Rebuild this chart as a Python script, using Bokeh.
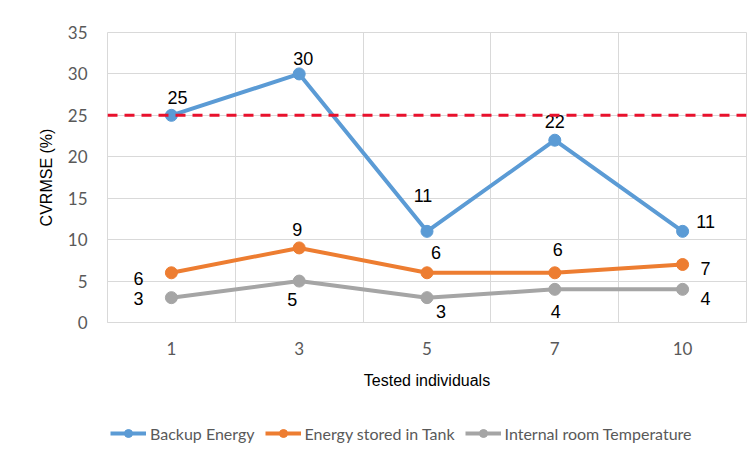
from bokeh.plotting import figure
from bokeh.layouts import column
from bokeh.models import FixedTicker, Span, Legend, LegendItem, ColumnDataSource, Range1d
from bokeh.core.properties import value
from bokeh.embed import file_html
from bokeh.resources import INLINE

# ---- data ----
categories = ["1", "3", "5", "7", "10"]
backup_energy = [25, 30, 11, 22, 11]
energy_tank = [6, 9, 6, 6, 7]
room_temp = [3, 5, 3, 4, 4]
threshold = 25
y_ticks = [0, 5, 10, 15, 20, 25, 30, 35]
series_names = ["Backup Energy", "Energy stored in Tank", "Internal room Temperature"]

# ---- styling (label pixel offsets relative to points) ----
colors = ["#5B9BD5", "#ED7D31", "#A5A5A5"]
label_dx = [[6, 4, -4, 0, 23], [-33, -2, 9, 3, 23], [-33, -7, 14, 1, 23]]
label_dy = [[-18, -15, -36, -19, -10], [6, -18, -20, -23, 4], [1, 18, 14, 22, 9]]

xpos = list(range(1, len(categories) + 1))

p = figure(width=750, height=408, output_backend="svg", toolbar_location=None,
           x_range=Range1d(0.5, len(categories) + 0.5), y_range=Range1d(0, 35),
           min_border_left=107, min_border_right=4, min_border_top=32, min_border_bottom=86)
p.outline_line_color = "#D9D9D9"
p.outline_line_width = 1

# grid
p.xgrid.ticker = FixedTicker(ticks=[i + 0.5 for i in range(0, len(categories) + 1)])
p.ygrid.ticker = FixedTicker(ticks=y_ticks)
for g in (p.xgrid, p.ygrid):
    g.grid_line_color = "#D9D9D9"
    g.grid_line_width = 1

# axes
p.xaxis.ticker = FixedTicker(ticks=xpos)
p.xaxis.major_label_overrides = {i: c for i, c in zip(xpos, categories)}
p.yaxis.ticker = FixedTicker(ticks=y_ticks)
for ax in (p.xaxis, p.yaxis):
    ax.axis_line_color = "#D9D9D9"
    ax.major_tick_line_color = None
    ax.minor_tick_line_color = None
    ax.major_label_text_color = "#595959"
    ax.major_label_text_font = "Lato"
    ax.major_label_text_font_size = "17px"
    ax.axis_label_text_font = "Liberation Sans"
    ax.axis_label_text_font_size = "16px"
    ax.axis_label_text_font_style = "normal"
    ax.axis_label_text_color = "#000000"
p.yaxis.axis_line_color = None
p.xaxis.major_label_standoff = 13
p.yaxis.major_label_standoff = 14
p.xaxis.axis_label = "Tested individuals"
p.yaxis.axis_label = "CVRMSE (%)"
p.xaxis.axis_label_standoff = 14
p.yaxis.axis_label_standoff = 10

# threshold line
p.add_layout(Span(location=threshold, dimension="width", line_color="#E8112D",
                  line_width=3, line_dash="10 7"))

# ---- legend strip below the chart ----
lg = figure(width=750, height=45, output_backend="svg", toolbar_location=None,
            x_range=Range1d(0, 1), y_range=Range1d(0, 1),
            x_axis_type=None, y_axis_type=None,
            min_border_left=0, min_border_right=0, min_border_top=0, min_border_bottom=0)
lg.outline_line_color = None
lg.xgrid.visible = False
lg.ygrid.visible = False

items = []
for name, vals, col, dx, dy in zip(series_names, [backup_energy, energy_tank, room_temp],
                                   colors, label_dx, label_dy):
    src = ColumnDataSource(dict(x=xpos, y=vals, t=[str(v) for v in vals], dx=dx, dy=dy))
    p.line("x", "y", source=src, line_color=col, line_width=4)
    p.scatter("x", "y", source=src, size=12, fill_color=col, line_color=col)
    p.text("x", "y", text="t", source=src, x_offset="dx", y_offset="dy",
           text_align="center", text_baseline="middle", text_color="#000000",
           text_font=value("Liberation Sans"), text_font_size="18px")
    # legend-only renderers (hidden) sharing the series data
    r1 = lg.line("x", "y", source=src, line_color=col, line_width=4, visible=False)
    r2 = lg.scatter("x", "y", source=src, size=12, fill_color=col, line_color=col, visible=False)
    items.append(LegendItem(label=name, renderers=[r1, r2]))

legend = Legend(items=items, orientation="horizontal", location=(3, 10),
                glyph_width=36, glyph_height=20, label_standoff=4, spacing=10,
                label_text_font="Lato", label_text_font_size="16px",
                label_text_color="#595959", border_line_color=None,
                background_fill_alpha=0, padding=0, margin=0,
                inactive_fill_alpha=0)
lg.add_layout(legend, "center")

layout = column(p, lg, spacing=0)
open("out.html", "w").write(file_html(layout, INLINE))
